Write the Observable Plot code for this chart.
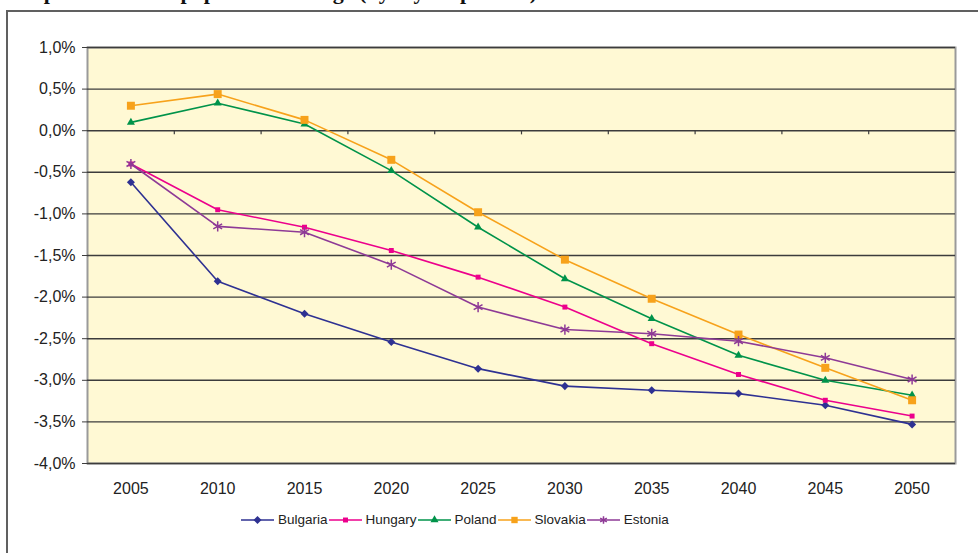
<!DOCTYPE html>
<html><head><meta charset="utf-8">
<script src="https://cdn.jsdelivr.net/npm/d3@7"></script>
<script src="https://cdn.jsdelivr.net/npm/@observablehq/plot@0.6"></script>
<style>
body{margin:0;width:978px;height:553px;overflow:hidden;position:relative;background:#fff;font-family:"Liberation Sans",Arial,sans-serif;}
#frame{position:absolute;left:6px;top:10px;width:1100px;height:700px;border:2px solid #606060;box-sizing:border-box;}
#title{position:absolute;left:18px;top:-19px;font:bold 22px/22px "Liberation Serif","Times New Roman",serif;white-space:nowrap;color:#111;}
#chart{position:absolute;left:0;top:0;}
#legend{position:absolute;left:241px;top:512px;display:flex;align-items:center;font-size:13.5px;color:#222;white-space:nowrap;}
#legend .item{display:flex;align-items:center;margin-right:1px;}
#legend svg{margin-right:4px;}
</style></head>
<body>
<div id="frame"></div>
<div id="title">Expected annual population change (by 5-year periods)</div>
<div id="chart"></div>
<div id="legend"></div>
<script>
const years = [2005, 2010, 2015, 2020, 2025, 2030, 2035, 2040, 2045, 2050];
const seriesNames = ["Bulgaria", "Hungary", "Poland", "Slovakia", "Estonia"];
const bulgaria = [-0.62, -1.81, -2.20, -2.54, -2.86, -3.07, -3.12, -3.16, -3.30, -3.53];
const hungary  = [-0.40, -0.95, -1.16, -1.44, -1.76, -2.12, -2.56, -2.93, -3.24, -3.43];
const poland   = [0.10, 0.33, 0.08, -0.48, -1.16, -1.78, -2.26, -2.70, -3.00, -3.18];
const slovakia = [0.30, 0.44, 0.13, -0.35, -0.98, -1.55, -2.02, -2.45, -2.85, -3.24];
const estonia  = [-0.40, -1.15, -1.22, -1.61, -2.12, -2.39, -2.44, -2.53, -2.73, -2.99];
const yTicks = [1.0, 0.5, 0.0, -0.5, -1.0, -1.5, -2.0, -2.5, -3.0, -3.5, -4.0];
const colors = ["#2E3192", "#EC008C", "#00934A", "#F7A21B", "#8E3A96"];

const diamond = {draw(ctx, size){const s = Math.sqrt(size/2); ctx.moveTo(0,-s); ctx.lineTo(s,0); ctx.lineTo(0,s); ctx.lineTo(-s,0); ctx.closePath();}};
const styles = [
  {symbol: diamond, r: 3.2, filled: true},
  {symbol: "square", r: 2.8, filled: true},
  {symbol: "triangle", r: 3.0, filled: true},
  {symbol: "square", r: 4.5, filled: true},
  {symbol: "asterisk", r: 4.8, filled: false}
];
const values = [bulgaria, hungary, poland, slovakia, estonia];
const series = seriesNames.map((name, i) => ({
  name, color: colors[i], ...styles[i],
  rows: years.map((year, j) => ({name, year, value: values[i][j]}))
}));
const boundaries = years.slice(0, -1).map(y => y + 2.5);
const fmt = d => d.toFixed(1).replace(".", ",") + "%";

const marks = [
  Plot.frame({fill: "#FFF9D4", stroke: null}),
  Plot.frame({stroke: "#9a9a9a", strokeWidth: 2}),
  Plot.ruleY(yTicks, {stroke: "#3c3c3c", strokeWidth: 1.4}),
  Plot.ruleX(boundaries, {x: d => d, y1: 0, y2: -0.05, stroke: "#3c3c3c", strokeWidth: 1.2}),
  Plot.axisY({ticks: yTicks, tickSize: 5, tickPadding: 7, tickFormat: fmt, label: null, stroke: "#3c3c3c"}),
  Plot.axisX({ticks: years, tickSize: 0, tickPadding: 19, tickFormat: d => String(d), label: null})
];
for (const s of series) {
  marks.push(Plot.line(s.rows, {x: "year", y: "value", stroke: s.color, strokeWidth: 1.6}));
  marks.push(Plot.dot(s.rows, {x: "year", y: "value", symbol: () => s.symbol, r: s.r,
    fill: s.filled ? s.color : "none", stroke: s.filled ? "none" : s.color, strokeWidth: 1.5}));
}

const chart = Plot.plot({
  width: 978, height: 553,
  marginLeft: 87, marginRight: 23, marginTop: 47, marginBottom: 90,
  x: {type: "linear", domain: [2002.5, 2052.5]},
  y: {domain: [-4, 1]},
  symbol: {type: "identity"},
  style: {fontFamily: "'Liberation Sans', Arial, sans-serif", fontSize: "16px", color: "#222", background: "transparent", overflow: "visible"},
  marks
});
document.getElementById("chart").appendChild(chart);

const legend = d3.select("#legend");
for (const s of series) {
  const item = legend.append("div").attr("class", "item");
  const svg = item.append("svg").attr("width", 33).attr("height", 14);
  svg.append("line").attr("x1", 0).attr("x2", 33).attr("y1", 7).attr("y2", 7).attr("stroke", s.color).attr("stroke-width", 1.6);
  const symType = s.symbol === "square" ? d3.symbolSquare : s.symbol === "triangle" ? d3.symbolTriangle : s.symbol === "asterisk" ? d3.symbolAsterisk : s.symbol;
  const r = Math.min(s.r, 3.6);
  svg.append("path").attr("transform", "translate(16.5,7)")
    .attr("d", d3.symbol(symType, Math.PI * r * r)())
    .attr("fill", s.filled ? s.color : "none").attr("stroke", s.filled ? "none" : s.color).attr("stroke-width", 1.5);
  item.append("span").text(s.name);
}
</script>
</body></html>
